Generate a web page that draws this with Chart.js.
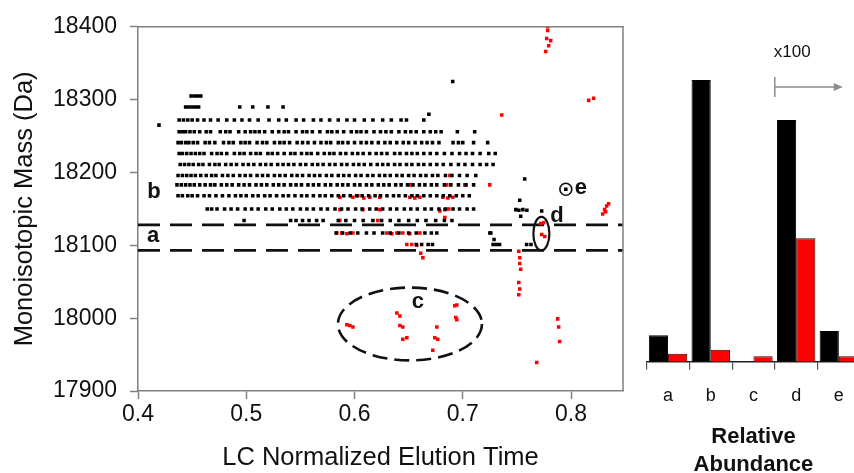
<!DOCTYPE html>
<html><head><meta charset="utf-8">
<script src="https://cdn.jsdelivr.net/npm/chart.js@4.4.1/dist/chart.umd.min.js"></script>
<style>
html,body{margin:0;padding:0;background:#fff;overflow:hidden;width:854px;height:473px;}
#wrap{position:relative;width:854px;height:473px;overflow:hidden;}
#c1{position:absolute;left:0;top:0;}
#c2{position:absolute;left:640px;top:0;}
</style></head><body><div id="wrap">
<canvas id="c1" width="640" height="473" style="width:640px;height:473px"></canvas>
<canvas id="c2" width="230" height="480" style="width:230px;height:480px"></canvas>
</div>
<script>
// ---- scatter: tick labels ----
const xTicks = [0.4, 0.5, 0.6, 0.7, 0.8];
const yTicks = [17900, 18000, 18100, 18200, 18300, 18400];

// ---- unmodified (black) features: streaks of points at fixed mass ----
const blackRowMass = [18305, 18290, 18272, 18256, 18241, 18226, 18211, 18196, 18183, 18168, 18150, 18134, 18117, 18101];
const blackRowTimes = [
  [0.449,0.452,0.455,0.458],
  [0.444,0.447,0.450,0.453,0.456,0.494,0.506,0.520,0.534],
  [0.438,0.442,0.446,0.450,0.455,0.461,0.467,0.474,0.482,0.489,0.496,0.503,0.511,0.521,0.530,0.537,0.546,0.553,0.562,0.569,0.577,0.585,0.593,0.600,0.609,0.617,0.626,0.634,0.643,0.648,0.664],
  [0.438,0.441,0.444,0.448,0.452,0.457,0.463,0.467,0.476,0.481,0.485,0.493,0.499,0.504,0.508,0.512,0.517,0.524,0.530,0.535,0.539,0.546,0.552,0.556,0.561,0.568,0.575,0.579,0.584,0.590,0.597,0.602,0.606,0.611,0.618,0.624,0.629,0.634,0.641,0.647,0.652,0.657,0.664,0.670,0.675,0.680,0.695,0.711],
  [0.437,0.440,0.444,0.447,0.451,0.455,0.462,0.466,0.471,0.479,0.484,0.488,0.495,0.499,0.503,0.510,0.515,0.519,0.526,0.531,0.535,0.540,0.547,0.552,0.557,0.563,0.569,0.574,0.578,0.585,0.589,0.594,0.600,0.606,0.611,0.616,0.622,0.628,0.633,0.639,0.645,0.650,0.656,0.662,0.667,0.672,0.678,0.691,0.696,0.700,0.710,0.723],
  [0.438,0.441,0.445,0.449,0.453,0.457,0.461,0.468,0.473,0.477,0.482,0.489,0.494,0.498,0.504,0.509,0.513,0.520,0.524,0.529,0.535,0.541,0.545,0.551,0.556,0.560,0.566,0.572,0.577,0.581,0.587,0.592,0.598,0.603,0.608,0.614,0.620,0.625,0.630,0.637,0.642,0.648,0.653,0.658,0.664,0.670,0.676,0.683,0.690,0.697,0.703,0.709,0.716,0.724,0.730],
  [0.439,0.443,0.447,0.451,0.456,0.460,0.466,0.471,0.475,0.481,0.486,0.491,0.497,0.502,0.507,0.513,0.518,0.523,0.529,0.534,0.539,0.544,0.550,0.555,0.561,0.566,0.571,0.577,0.582,0.588,0.593,0.599,0.604,0.609,0.615,0.621,0.626,0.631,0.637,0.642,0.648,0.653,0.659,0.664,0.670,0.676,0.682,0.689,0.696,0.702,0.709,0.716,0.722,0.728],
  [0.437,0.441,0.445,0.449,0.453,0.458,0.463,0.468,0.472,0.478,0.483,0.488,0.494,0.499,0.504,0.510,0.515,0.520,0.526,0.531,0.536,0.542,0.547,0.552,0.558,0.563,0.568,0.574,0.579,0.585,0.590,0.595,0.601,0.606,0.612,0.617,0.623,0.628,0.633,0.639,0.644,0.650,0.655,0.661,0.666,0.672,0.677,0.684,0.690,0.697,0.704,0.712],
  [0.436,0.440,0.444,0.448,0.452,0.457,0.462,0.467,0.471,0.477,0.482,0.487,0.493,0.498,0.503,0.509,0.514,0.519,0.525,0.530,0.535,0.541,0.546,0.551,0.557,0.562,0.567,0.573,0.578,0.584,0.589,0.594,0.600,0.605,0.611,0.616,0.622,0.627,0.632,0.638,0.643,0.649,0.654,0.660,0.665,0.671,0.676,0.683,0.689,0.696,0.703,0.710],
  [0.437,0.441,0.446,0.450,0.455,0.461,0.466,0.472,0.478,0.484,0.490,0.495,0.500,0.506,0.511,0.517,0.522,0.528,0.534,0.539,0.545,0.551,0.556,0.562,0.568,0.573,0.579,0.585,0.590,0.596,0.602,0.607,0.613,0.619,0.624,0.630,0.636,0.641,0.647,0.653,0.658,0.664,0.670,0.676,0.682,0.688,0.694,0.700,0.706],
  [0.464,0.468,0.473,0.480,0.486,0.492,0.499,0.505,0.511,0.518,0.524,0.531,0.537,0.543,0.550,0.556,0.562,0.569,0.575,0.582,0.588,0.594,0.601,0.607,0.614,0.620,0.626,0.633,0.639,0.646,0.652,0.658,0.665,0.671,0.678,0.684,0.691,0.697,0.704,0.710],
  [0.498,0.541,0.546,0.552,0.558,0.565,0.571,0.585,0.592,0.600,0.608,0.617,0.625,0.633,0.641,0.650,0.658,0.666,0.675,0.683,0.690],
  [0.583,0.589,0.596,0.603,0.611,0.618,0.626,0.633,0.641,0.650,0.657,0.665,0.671,0.676,0.725],
  [0.657,0.662,0.668,0.672,0.728,0.731,0.734,0.759,0.763]
];
const blackExtraTime = [0.6907, 0.4194, 0.6687, 0.7572, 0.7526, 0.7490, 0.7518, 0.7555, 0.7592, 0.7535, 0.7259, 0.7289, 0.7729, 0.7952];
const blackExtraMass = [18325, 18265, 18280, 18191, 18162, 18149, 18148, 18149, 18148, 18140, 18117, 18108, 18147, 18177];

// ---- modified (red) features ----
const redTime = [
  0.6511,0.6852,0.7018,0.7249,0.6880,
  0.5865,0.5985,0.6031,0.6086,0.6142,0.6234,0.6511,0.6557,0.6604,0.6816,0.6862,0.6908,
  0.5865,0.6077,0.6234,0.6788,0.6834,0.6871,
  0.5865,0.6215,0.6834,
  0.5837,0.5883,0.5929,0.5985,0.6298,0.6345,0.6391,0.6446,0.6511,0.6604,
  0.6483,0.6529,0.6575,0.6631,0.6612,
  0.5957,0.5929,0.5985,0.6391,0.6419,0.6446,0.6419,0.6483,0.6446,0.6760,0.6741,0.6769,0.6723,0.6945,0.6926,0.6935,0.6945,
  0.7517,0.7526,0.7517,0.7535,0.7526,0.7526,0.7517,0.7683,0.7877,0.7886,0.7895,
  0.7784,0.7784,0.7775,0.7812,0.7794,0.7766,0.7360,0.8163,0.8209,
  0.8292,0.8310,0.8329,0.8347,0.8320,
  0.7720,0.7747,0.7729,0.7757
];
const redMass = [
  18183,18183,18183,18183,18196,
  18166,18166,18168,18165,18166,18166,18166,18165,18166,18166,18165,18166,
  18149,18149,18149,18147,18149,18150,
  18134,18134,18138,
  18117,18117,18116,18117,18117,18116,18117,18117,18116,18117,
  18101,18101,18100,18083,18089,
  17990,17991,17988,18007,18003,17988,17990,17973,17971,17988,17973,17971,17956,18018,18017,18001,17998,
  18032,18040,18049,18067,18075,18083,18092,17939,17999,17988,17968,
  18400,18395,18384,18381,18374,18366,18279,18299,18302,
  18143,18149,18154,18157,18146,
  18130,18131,18115,18112
];

// ---- mass window boundaries (dashed lines) ----
const windowMass = [18128, 18093];
const timeRange = [0.4, 0.848];

// ---- relative abundance bars ----
const categories = ['a', 'b', 'c', 'd', 'e'];
const unmodAbund = [9.4, 100, 0, 85.8, 10.9];
const modAbund = [2.8, 4.2, 1.9, 43.8, 1.9];

const FONT = '"Liberation Sans", Arial, Helvetica, sans-serif';
Chart.defaults.font.family = FONT;

const blackPts = [];
blackRowTimes.forEach((xs, i) => xs.forEach(t => blackPts.push({x: t, y: blackRowMass[i]})));
blackExtraTime.forEach((t, i) => blackPts.push({x: t, y: blackExtraMass[i]}));
const redPts = redTime.map((t, i) => ({x: t, y: redMass[i]}));

const annot = {
  id: 'annot',
  afterDatasetsDraw(chart) {
    const {ctx, chartArea: ca, scales: {x, y}} = chart;
    const px = v => x.getPixelForValue(v), py = v => y.getPixelForValue(v);
    ctx.save();
    ctx.strokeStyle = '#111';
    // region c ellipse (dashed)
    ctx.lineWidth = 2.6; ctx.setLineDash([15, 7]);
    ctx.beginPath();
    ctx.ellipse(px(0.6512), py(17992), px(0.7177) - px(0.6512), py(17992) - py(18042), 0, 0, 2 * Math.PI);
    ctx.stroke();
    ctx.setLineDash([]);
    // region d ellipse
    ctx.lineWidth = 2.2;
    ctx.beginPath();
    ctx.ellipse(px(0.7726), py(18116), px(0.7800) - px(0.7726), py(18116) - py(18139), 0, 0, 2 * Math.PI);
    ctx.stroke();
    // region e circle
    ctx.lineWidth = 1.6;
    ctx.beginPath();
    ctx.arc(px(0.7952), py(18177), px(0.8007) - px(0.7952), 0, 2 * Math.PI);
    ctx.stroke();
    // region labels
    ctx.fillStyle = '#111';
    ctx.font = 'bold 22px ' + FONT;
    ctx.textAlign = 'center'; ctx.textBaseline = 'middle';
    [['b', 0.4148, 18173], ['a', 0.4139, 18113], ['c', 0.6585, 18022], ['d', 0.7869, 18140], ['e', 0.8090, 18179]]
      .forEach(([t, xv, yv]) => ctx.fillText(t, px(xv), py(yv)));
    // frame top / right
    ctx.strokeStyle = '#808080'; ctx.lineWidth = 1.5;
    ctx.beginPath();
    ctx.moveTo(ca.left, ca.top); ctx.lineTo(ca.right, ca.top); ctx.lineTo(ca.right, ca.bottom);
    ctx.stroke();
    ctx.restore();
  }
};

new Chart(document.getElementById('c1'), {
  type: 'scatter',
  data: {
    datasets: [
      {data: blackPts, backgroundColor: '#000', borderWidth: 0, pointStyle: 'rect', pointRadius: 2.5},
      {data: redPts, backgroundColor: '#ff0000', borderWidth: 0, pointStyle: 'rect', pointRadius: 2.5},
      ...windowMass.map(m => ({
        type: 'line', data: timeRange.map(t => ({x: t, y: m})),
        borderColor: '#111', borderWidth: 2.8, borderDash: [22, 10], pointRadius: 0, fill: false
      }))
    ]
  },
  options: {
    responsive: false, animation: false,
    layout: {padding: {left: 0, right: 17, top: 23, bottom: 0}},
    plugins: {legend: {display: false}, tooltip: {enabled: false}},
    scales: {
      x: {
        type: 'linear', min: timeRange[0], max: timeRange[1],
        afterBuildTicks: s => { s.ticks = xTicks.map(v => ({value: v})); },
        afterFit: s => { s.height = 82; },
        ticks: {callback: v => v.toFixed(1), font: {size: 23}, color: '#111', padding: 2, maxRotation: 0, autoSkip: false},
        grid: {display: true, drawOnChartArea: false, tickLength: 8, tickColor: '#808080', tickWidth: 1.5},
        border: {display: true, color: '#808080', width: 1.5},
        title: {display: true, text: 'LC Normalized Elution Time', font: {size: 25.5}, color: '#111', padding: {top: 0, bottom: 0}}
      },
      y: {
        type: 'linear', min: 17900, max: 18400,
        afterBuildTicks: s => { s.ticks = yTicks.map(v => ({value: v})); },
        afterFit: s => { s.width = 138; },
        ticks: {callback: v => String(v), font: {size: 23}, color: '#111', padding: 13},
        grid: {display: true, drawOnChartArea: false, tickLength: 8, tickColor: '#808080', tickWidth: 1.5},
        border: {display: true, color: '#808080', width: 1.5},
        title: {display: true, text: 'Monoisotopic Mass (Da)', font: {size: 25.5}, color: '#111', padding: {top: 10, bottom: 0}}
      }
    }
  },
  plugins: [annot]
});

const x100 = {
  id: 'x100',
  afterDraw(chart) {
    const {ctx, scales: {x, y}} = chart;
    const sx = (x.getPixelForValue(2) + x.getPixelForValue(3)) / 2;
    const ay = y.getPixelForValue(97.5);
    ctx.save();
    ctx.strokeStyle = '#8c8c8c'; ctx.fillStyle = '#8c8c8c'; ctx.lineWidth = 1.5;
    ctx.beginPath();
    ctx.moveTo(sx, ay - 10); ctx.lineTo(sx, ay + 10);
    ctx.moveTo(sx, ay); ctx.lineTo(sx + 61, ay);
    ctx.stroke();
    ctx.beginPath();
    ctx.moveTo(sx + 68, ay); ctx.lineTo(sx + 59, ay - 4); ctx.lineTo(sx + 59, ay + 4); ctx.closePath(); ctx.fill();
    ctx.fillStyle = '#111';
    ctx.font = '17px ' + FONT; ctx.textAlign = 'left'; ctx.textBaseline = 'middle';
    ctx.fillText('x100', sx - 1, y.getPixelForValue(110));
    ctx.restore();
  }
};

new Chart(document.getElementById('c2'), {
  type: 'bar',
  data: {
    labels: categories,
    datasets: [
      {data: unmodAbund, backgroundColor: '#000', borderColor: '#000', borderWidth: 1},
      {data: modAbund, backgroundColor: '#ff0000', borderColor: '#3a0000', borderWidth: 1}
    ]
  },
  options: {
    responsive: false, animation: false,
    layout: {padding: {left: 6.7, right: 9.8, top: 23.7, bottom: 0}},
    plugins: {legend: {display: false}, tooltip: {enabled: false}},
    datasets: {bar: {categoryPercentage: 0.9, barPercentage: 1.0}},
    scales: {
      x: {
        afterFit: s => { s.height = 118.3; },
        grid: {offset: true, drawOnChartArea: false, tickLength: 8, color: '#555', lineWidth: 1.2},
        border: {display: true, color: '#222', width: 1.5},
        ticks: {font: {size: 18}, color: '#111', padding: 16},
        title: {display: true, text: ['Relative', 'Abundance'], font: {size: 22, weight: 'bold', lineHeight: 1.27}, color: '#111', padding: {top: 0, bottom: 1}}
      },
      y: {display: false, min: 0, max: 120}
    }
  },
  plugins: [x100]
});
</script>
</body></html>
